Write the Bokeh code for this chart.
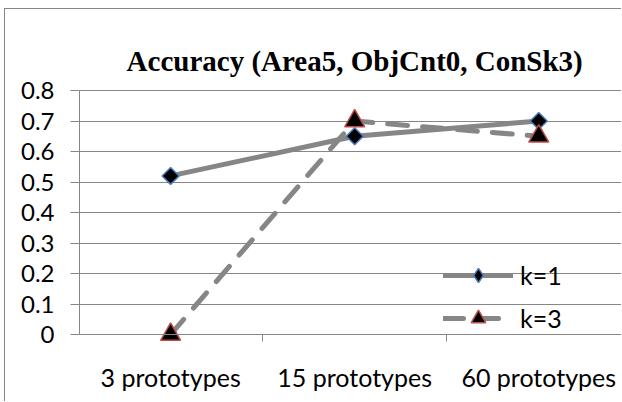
import math
from bokeh.plotting import figure
from bokeh.models import (Range1d, FixedTicker, Legend, LegendItem, LinearAxis,
                          ColumnDataSource, Label)
from bokeh.embed import file_html
from bokeh.resources import INLINE

categories = ["3 prototypes", "15 prototypes", "60 prototypes"]
k1_values = [0.52, 0.65, 0.70]
k3_values = [0.0, 0.70, 0.65]
y_ticks = [0, 0.1, 0.2, 0.3, 0.4, 0.5, 0.6, 0.7, 0.8]
y_labels = ["0", "0.1", "0.2", "0.3", "0.4", "0.5", "0.6", "0.7", "0.8"]
title_text = "Accuracy (Area5, ObjCnt0, ConSk3)"
series_names = ["k=1", "k=3"]

xs = list(range(len(categories)))
src1 = ColumnDataSource(dict(x=xs, y=k1_values))
src3 = ColumnDataSource(dict(x=xs, y=k3_values))

GREY = "#868686"
SERIF = "'Liberation Serif', serif"
SANS = "'Lato', sans-serif"

# plot area reaches up to the chart top so that the title can sit inside it
p = figure(width=617, height=393, output_backend="svg", toolbar_location=None,
           x_range=Range1d(-0.495, 2.455), y_range=Range1d(-0.0393, 1.0656),
           min_border_left=74, min_border_right=0, min_border_top=0, min_border_bottom=56)
p.styles = {"border-left": "1px solid #868686", "border-top": "1px solid #868686",
            "margin-left": "4px", "margin-top": "8px"}
p.outline_line_color = None
p.background_fill_color = "white"
p.border_fill_color = "white"

# chart title, 30 px above the 0.8 gridline
title = Label(x=1.0, y=y_ticks[-1], y_offset=30, text=title_text,
              text_font=SERIF, text_font_style="bold", text_font_size="29px",
              text_align="center", text_baseline="alphabetic", text_color="black")
p.add_layout(title)

# y axis
p.yaxis.ticker = FixedTicker(ticks=y_ticks)
p.yaxis.major_label_overrides = {t: l for t, l in zip(y_ticks, y_labels)}
p.yaxis.bounds = (0, 0.8)
p.yaxis.axis_line_color = GREY
p.yaxis.major_tick_line_color = GREY
p.yaxis.major_tick_out = 9
p.yaxis.major_tick_in = 0
p.yaxis.minor_tick_line_color = None
p.yaxis.major_label_text_font = SANS
p.yaxis.major_label_text_font_size = "24px"
p.yaxis.major_label_text_color = "black"
p.yaxis.major_label_standoff = 16

# category labels axis (no line)
p.xaxis.ticker = FixedTicker(ticks=xs)
p.xaxis.major_label_overrides = {i: c for i, c in zip(xs, categories)}
p.xaxis.axis_line_color = None
p.xaxis.major_tick_line_color = None
p.xaxis.minor_tick_line_color = None
p.xaxis.major_tick_out = 0
p.xaxis.major_label_text_font = SANS
p.xaxis.major_label_text_font_size = "25px"
p.xaxis.major_label_text_color = "black"
p.xaxis.major_label_standoff = 15

# axis line at y=0 with boundary ticks
zero_axis = LinearAxis(fixed_location=0,
                       ticker=FixedTicker(ticks=[], minor_ticks=[-0.5, 0.5, 1.5, 2.5]),
                       axis_line_color=GREY, major_tick_line_color=None,
                       minor_tick_line_color=GREY, minor_tick_out=7, minor_tick_in=0,
                       major_label_text_font_size="0px", major_label_standoff=0)
p.add_layout(zero_axis, "below")

p.xgrid.grid_line_color = None
p.ygrid.ticker = FixedTicker(ticks=y_ticks)
p.ygrid.grid_line_color = GREY
p.ygrid.grid_line_width = 1

l1 = p.line("x", "y", source=src1, line_color=GREY, line_width=5, line_cap="round")
# diamond glyph used for the legend swatch (lies fully under the rotated squares)
m1_leg = p.scatter("x", "y", source=src1, marker="diamond", size=11,
                   fill_color="black", line_color="#4a7ebb", line_width=1.5)
m1 = p.scatter("x", "y", source=src1, marker="square", size=12, angle=math.pi / 4,
               fill_color="black", line_color="#4a7ebb", line_width=1.5)
l3 = p.line("x", "y", source=src3, line_color=GREY, line_width=5, line_dash="20 15",
            line_cap="round")
m3 = p.scatter("x", "y", source=src3, marker="triangle", size=20,
               fill_color="black", line_color="#be4b48", line_width=1.5)

legend = Legend(items=[LegendItem(label=series_names[0], renderers=[l1, m1_leg]),
                       LegendItem(label=series_names[1], renderers=[l3, m3])],
                location=(364, 10), glyph_width=70, glyph_height=36, spacing=7,
                label_standoff=7, padding=0, margin=0,
                background_fill_alpha=0, border_line_color=None,
                label_text_font=SANS, label_text_font_size="25px",
                label_text_color="black")
p.add_layout(legend, "center")

open("out.html", "w").write(file_html(p, INLINE))
